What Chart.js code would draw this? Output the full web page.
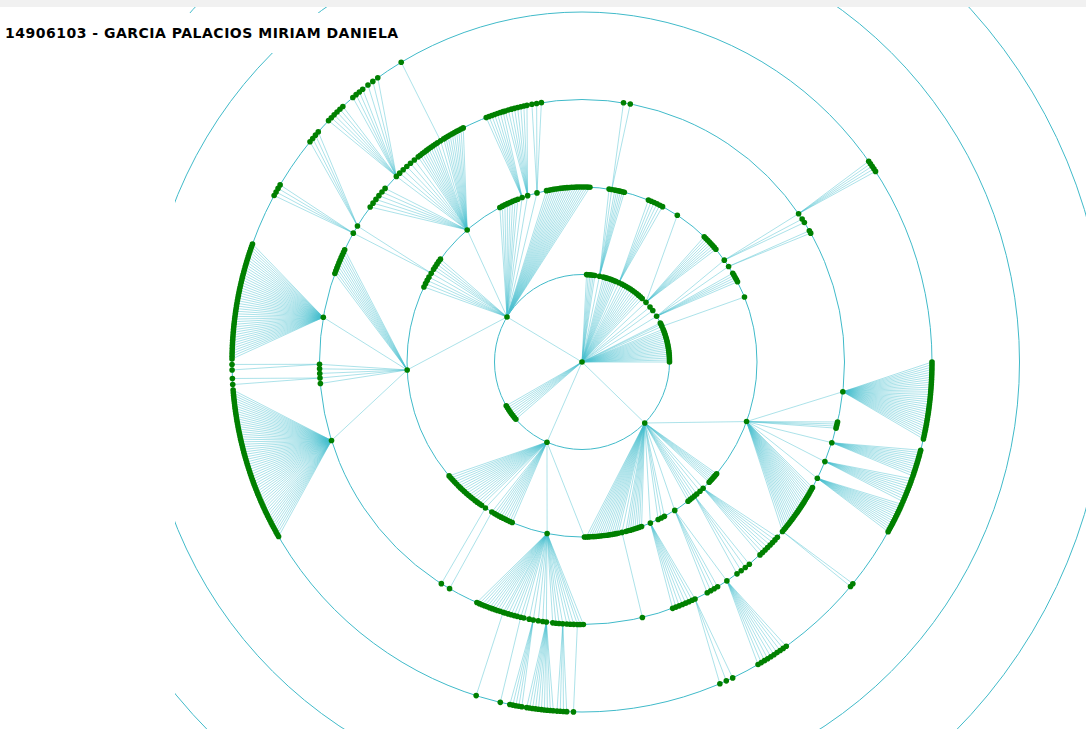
<!DOCTYPE html>
<html>
<head>
<meta charset="utf-8">
<title>Arbol de red</title>
<script src="https://cdn.jsdelivr.net/npm/chart.js@4.4.1/dist/chart.umd.min.js"></script>
<style>
    html, body { margin: 0; padding: 0; background: #fff; overflow: hidden; }
    #topbar { position: absolute; left: 0; top: 0; width: 100%; height: 7px; background: #f1f1f1; z-index: 2; }
    #chartBox { position: absolute; left: 175px; top: 7px; width: 911px; height: 722px; }
    #title { position: absolute; left: 0; top: 13px; width: 408px; height: 40px; background: #fff; z-index: 1;
             font: bold 14px "DejaVu Sans", Verdana, sans-serif; letter-spacing: 0.5px; color: #000; }
    #title span { position: absolute; left: 5px; top: 12px; line-height: 16px; white-space: nowrap; }
</style>
</head>
<body>
<div id="topbar"></div>
<div id="title"><span>14906103 - GARCIA PALACIOS MIRIAM DANIELA</span></div>
<div id="chartBox"><canvas id="treeChart" width="911" height="722"></canvas></div>
<script>
// Radial tree: every ring is one generation
const RING_STEP = 87.5;
const ringLevels = [1, 2, 3, 4, 5, 6];

// Nodes that have children (index 0 = root). Angle in degrees, clockwise from east
const hubAngle = [
    0,
    211, 113.6, 44.2, 281.5, 295, 317, 328.5, 336,                 // 1-8   ring 1
    229, 177.4, 210.5, 250, 251.9, 255.1, 279.8, 324.4, 326.9,     // 9-17  ring 2
    19.9, 46.2, 50, 58, 67, 76.8, 101.5, 121, 123.5,               // 18-26 ring 2
    189.8, 162.6, 179.5, 176.5, 209.4, 211.2, 225, 237.4, 325.6,   // 27-35 ring 3
    6.5, 17.9, 22.3, 26.3, 40.2, 56.5, 64.5,                       // 36-42 ring 3
    107.5, 103.5, 100.7, 97.8, 94.2, 91                            // 43-48 ring 3
];
const hubParent = [
    -1,
    0, 0, 0, 0, 0, 0, 0, 0,
    1, 1, 1, 1, 1, 1, 4, 7, 7,
    3, 3, 3, 3, 3, 3, 2, 2, 2,
    10, 10, 10, 10, 11, 11, 9, 9, 16,
    18, 18, 18, 18, 18, 21, 22,
    24, 24, 24, 24, 24, 24
];

// Groups of leaf children of a hub, laid out on the next ring between two angles
const groupParent = [
    0, 0, 0, 0, 0, 0, 0,
    1, 1, 1, 1, 4, 4, 5, 6, 6, 7, 8,
    3, 3, 3, 3, 3, 3, 2, 2, 2,
    9, 9, 9, 9, 9, 10, 10, 10, 12, 13, 14, 15, 16, 17,
    18, 18, 19, 20, 21, 22, 23,
    24, 24, 24, 24, 24, 24, 24, 25, 26,
    27, 29, 30, 28, 31, 32, 33, 33, 33, 33, 34, 35,
    36, 37, 38, 39, 40, 41, 42, 43, 44, 45, 46, 47, 48
];
const groupFrom = [
    273, 284, 297, 321, 333.5, 338, 139.1,
    205.4, 212, 242, 258.3, 278.9, 280.8, 292.3, 303, 314.3, 329.5, 338.2,
    39.7, 47.6, 51, 61.9, 70.1, 78, 89.2, 113.5, 125,
    216.2, 226, 230.3, 231.4, 238.2, 199.7, 177.5, 175.3, 248.6, 253, 259, 279.1, 327, 330,
    13.2, 28.6, 41.9, 50.4, 58.9, 65.2, 76.7,
    89.7, 91.8, 95, 98.6, 101.6, 104.3, 108.2, 120.3, 122.4,
    180.5, 178.7, 176.3, 150.1, 208.4, 219, 223.6, 229.1, 232.3, 233.3, 238.9, 325,
    0, 14.6, 19.5, 24, 39.3, 54.3, 64.5, 107.6, 103.5, 99.9, 94.7, 92.5, 91.4
];
const groupTo = [
    278.5, 293, 313.5, 324, 334.5, 360, 150,
    209, 216, 248.5, 272.6, 278.9, 284, 297.4, 303, 319.9, 332.7, 338.2,
    43.4, 49, 52.7, 64.2, 75.5, 88.6, 89.2, 120, 139.4,
    221.4, 229.2, 230.3, 236.6, 243.1, 205.3, 178.5, 175.3, 252.5, 257.9, 261.1, 280.6, 327.9, 330.6,
    14.6, 39.6, 47.3, 53.8, 61.5, 69.8, 76.7,
    90.4, 93.3, 96.4, 99.6, 102.8, 107, 113.6, 120.3, 122.4,
    199.7, 179.6, 177.3, 175.4, 210.4, 221.1, 226.9, 231.2, 232.3, 234.3, 238.9, 327,
    12.7, 19, 23.5, 29, 39.9, 59.8, 66.8, 107.6, 103.5, 101.9, 99.1, 94.1, 91.4
];
const groupCount = [
    6, 8, 11, 2, 2, 18, 8,
    4, 5, 8, 20, 1, 6, 6, 1, 8, 5, 1,
    7, 2, 3, 3, 8, 15, 1, 9, 17,
    6, 4, 1, 10, 10, 10, 2, 1, 7, 8, 3, 2, 2, 2,
    4, 22, 8, 4, 4, 7, 1,
    2, 3, 3, 2, 2, 5, 10, 1, 1,
    45, 2, 2, 60, 4, 4, 6, 4, 1, 2, 1, 5,
    32, 12, 10, 14, 2, 10, 3, 1, 1, 5, 10, 4, 1
];

const hubLevel = [];
hubParent.forEach((p, i) => { hubLevel[i] = p < 0 ? 0 : hubLevel[p] + 1; });

function toXY(level, deg) {
    const r = level * RING_STEP;
    const a = deg * Math.PI / 180;
    return { x: r * Math.cos(a), y: -r * Math.sin(a) };
}

const hubPos = hubAngle.map((a, i) => toXY(hubLevel[i], a));
const nodePoints = [];
const edgePoints = [];
const GAP = { x: NaN, y: NaN };

hubPos.forEach((p, i) => {
    nodePoints.push(p);
    if (hubParent[i] >= 0) edgePoints.push(hubPos[hubParent[i]], p, GAP);
});

groupParent.forEach((par, g) => {
    const n = groupCount[g];
    for (let k = 0; k < n; k++) {
        const a = n === 1 ? groupFrom[g] : groupFrom[g] + (groupTo[g] - groupFrom[g]) * k / (n - 1);
        const p = toXY(hubLevel[par] + 1, a);
        nodePoints.push(p);
        edgePoints.push(hubPos[par], p, GAP);
    }
});

// Concentric guide rings, drawn with the chart's own scales
const ringPlugin = {
    id: 'rings',
    beforeDatasetsDraw(chart) {
        const { ctx, scales: { x, y } } = chart;
        const cx = x.getPixelForValue(0);
        const cy = y.getPixelForValue(0);
        ctx.save();
        ctx.strokeStyle = '#40bac9';
        ctx.lineWidth = 1;
        ringLevels.forEach(l => {
            const r = x.getPixelForValue(l * RING_STEP) - cx;
            ctx.beginPath();
            ctx.arc(cx, cy, r, 0, Math.PI * 2);
            ctx.stroke();
        });
        ctx.restore();
    }
};

document.addEventListener('DOMContentLoaded', function() {
    const ctx = document.getElementById('treeChart').getContext('2d');
    new Chart(ctx, {
        type: 'scatter',
        data: {
            datasets: [
                {
                    label: 'Nodos',
                    data: nodePoints,
                    backgroundColor: '#008000',
                    borderColor: '#008000',
                    borderWidth: 0,
                    pointRadius: 2.8,
                    pointHoverRadius: 2.8,
                    order: 0
                },
                {
                    label: 'Enlaces',
                    data: edgePoints,
                    showLine: true,
                    spanGaps: false,
                    tension: 0,
                    borderColor: 'rgba(70, 190, 206, 0.45)',
                    borderWidth: 1,
                    pointRadius: 0,
                    pointHoverRadius: 0,
                    order: 1
                }
            ]
        },
        options: {
            responsive: false,
            animation: false,
            events: [],
            layout: { padding: 0, autoPadding: false },
            scales: {
                x: { type: 'linear', min: -407, max: 504, display: false },
                y: { type: 'linear', min: -367, max: 355, display: false }
            },
            plugins: {
                legend: { display: false },
                tooltip: { enabled: false }
            }
        },
        plugins: [ringPlugin]
    });
});
</script>
</body>
</html>
